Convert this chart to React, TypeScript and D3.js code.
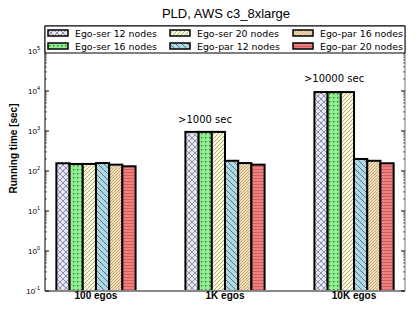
import React from "react";
import * as d3 from "d3";

const categories = ["100 egos", "1K egos", "10K egos"];
const seriesNames = [
  "Ego-ser 12 nodes",
  "Ego-ser 16 nodes",
  "Ego-ser 20 nodes",
  "Ego-par 12 nodes",
  "Ego-par 16 nodes",
  "Ego-par 20 nodes",
];
// running time per series, one value per category
const egoSer12 = [156, 950, 9400];
const egoSer16 = [150, 950, 9400];
const egoSer20 = [150, 950, 9400];
const egoPar12 = [158, 180, 200];
const egoPar16 = [144, 158, 180];
const egoPar20 = [131, 144, 156];
const seriesValues = [egoSer12, egoSer16, egoSer20, egoPar12, egoPar16, egoPar20];
const yTickExps = [-1, 0, 1, 2, 3, 4, 5];
const notes = [
  { cat: "1K egos", text: ">1000 sec", value: 1630 },
  { cat: "10K egos", text: ">10000 sec", value: 16800 },
];

const fills = ["#e6e6fa", "#90ee90", "#fafad2", "#add8e6", "#f5deb3", "#f08080"];

const W = 415;
const H = 312;
const left = 45;
const right = 405;
const top = 26;
const bottom = 291;

const dejavu = "DejaVu Sans, sans-serif";
const helv = "Liberation Sans, Arial, sans-serif";

const Patterns = () => (
  <defs>
    <pattern id="p0" patternUnits="userSpaceOnUse" width="6" height="6">
      <rect width="6" height="6" fill={fills[0]} />
      <path d="M0,0L6,6M6,0L0,6" stroke="#555" strokeWidth="0.6" />
    </pattern>
    <pattern id="p1" patternUnits="userSpaceOnUse" width="4" height="4">
      <rect width="4" height="4" fill={fills[1]} />
      <rect x="1" y="1" width="1.4" height="1.4" fill="#2e7d2e" />
    </pattern>
    <pattern id="p2" patternUnits="userSpaceOnUse" width="4" height="4">
      <rect width="4" height="4" fill={fills[2]} />
      <path d="M-1,1L1,-1M0,4L4,0M3,5L5,3" stroke="#777" strokeWidth="0.6" />
    </pattern>
    <pattern id="p3" patternUnits="userSpaceOnUse" width="6" height="6">
      <rect width="6" height="6" fill={fills[3]} />
      <path d="M-1,5L1,7M0,0L6,6M5,-1L7,1" stroke="#444" strokeWidth="0.7" />
    </pattern>
    <pattern id="p4" patternUnits="userSpaceOnUse" width="3" height="3">
      <rect width="3" height="3" fill={fills[4]} />
      <path d="M-1,1L1,-1M0,3L3,0M2,4L4,2" stroke="#8a7050" strokeWidth="0.5" />
    </pattern>
    <pattern id="p5" patternUnits="userSpaceOnUse" width="4" height="3">
      <rect width="4" height="3" fill={fills[5]} />
      <path d="M0,1.5L4,1.5" stroke="#c05050" strokeWidth="0.7" />
    </pattern>
  </defs>
);

export default function App() {
  const x = d3.scalePoint<string>().domain(categories).range([left, right]).padding(0.395);
  const barW = 13.2;
  const y = d3.scaleLog().domain([0.1, Math.pow(10, 5.625)]).range([bottom, top]);

  const minor: number[] = [];
  for (let e = -1; e < 6; e++) {
    for (let m = 2; m < 10; m++) {
      const v = m * Math.pow(10, e);
      if (y(v) >= top) minor.push(v);
    }
  }

  const legendCols = [48, 170, 293];
  const legendRows = [33, 46];

  return (
    <svg width={W} height={H} style={{ position: "absolute", left: 0, top: 0 }}>
      <Patterns />
      <rect width={W} height={H} fill="#fff" />
      <text x={(left + right) / 2 + 1} y={18} textAnchor="middle" fontFamily={helv} fontSize={13}>
        PLD, AWS c3_8xlarge
      </text>

      {/* bars */}
      {seriesValues.map((vals, s) =>
        vals.map((v, i) => {
          const cx = x(categories[i])!;
          const bx = cx - 3 * barW + s * barW;
          return (
            <rect
              key={`${s}-${i}`}
              x={bx}
              y={y(v)}
              width={barW}
              height={bottom - y(v)}
              fill={`url(#p${s})`}
              stroke="#000"
              strokeWidth={2}
            />
          );
        })
      )}

      {/* frame */}
      <line x1={left} x2={left} y1={top} y2={bottom} stroke="#000" strokeWidth={1} />
      <line x1={right} x2={right} y1={top} y2={bottom} stroke="#777" strokeWidth={1} />
      <line x1={left} x2={right} y1={top} y2={top} stroke="#000" strokeWidth={1} />
      <line x1={left} x2={right} y1={bottom} y2={bottom} stroke="#888" strokeWidth={2} />

      {/* y ticks */}
      {yTickExps.map((e) => {
        const yy = y(Math.pow(10, e));
        return (
          <g key={e}>
            <line x1={left} x2={left + 4} y1={yy} y2={yy} stroke="#000" />
            <line x1={right} x2={right - 4} y1={yy} y2={yy} stroke="#000" />
            <text x={left - 5} y={yy + 3} textAnchor="end" fontFamily={helv} fontSize={8}>
              10
              <tspan dy={-4} fontSize={5.5}>
                {e}
              </tspan>
            </text>
          </g>
        );
      })}
      {minor.map((v, i) => (
        <g key={i}>
          <line x1={left} x2={left + 2} y1={y(v)} y2={y(v)} stroke="#000" strokeWidth={0.6} />
          <line x1={right} x2={right - 2} y1={y(v)} y2={y(v)} stroke="#000" strokeWidth={0.6} />
        </g>
      ))}

      {/* x labels */}
      {categories.map((c) => (
        <text key={c} x={x(c)} y={299} textAnchor="middle" fontFamily={helv} fontSize={10} fontWeight="bold">
          {c}
        </text>
      ))}

      <text
        transform={`translate(17,${(top + bottom) / 2 - 10}) rotate(-90)`}
        textAnchor="middle"
        fontFamily={helv}
        fontSize={10}
        fontWeight="bold"
      >
        Running time [sec]
      </text>

      {/* annotations */}
      {notes.map((n) => (
        <text key={n.text} x={x(n.cat)! - 20} y={y(n.value)} textAnchor="middle" fontFamily={dejavu} fontSize={10}>
          {n.text}
        </text>
      ))}

      {/* legend */}
      <rect x={left} y={top} width={right - left} height={27} fill="#fff" stroke="#000" strokeWidth={1} />
      {seriesNames.map((name, s) => {
        const col = Math.floor(s / 2);
        const row = s % 2;
        const lx = legendCols[col];
        const ly = legendRows[row];
        return (
          <g key={name}>
            <rect x={lx} y={ly - 3} width={20} height={6} fill={`url(#p${s})`} stroke="#000" strokeWidth={1.5} />
            <text x={lx + 27} y={ly + 3.5} fontFamily={dejavu} fontSize={9.4}>
              {name}
            </text>
          </g>
        );
      })}
    </svg>
  );
}
